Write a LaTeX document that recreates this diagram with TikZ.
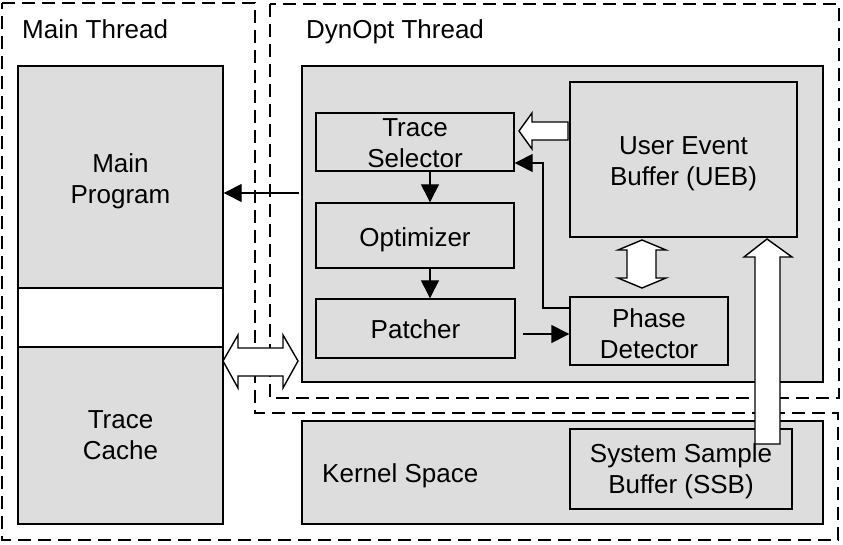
\documentclass[tikz,border=0pt]{standalone}
\usepackage{fontspec}
\setmainfont{Liberation Sans}
\usetikzlibrary{arrows.meta}
\definecolor{boxgray}{RGB}{221,221,221}
\begin{document}
\begin{tikzpicture}[x=1pt,y=-1pt,
  box/.style={draw=black, line width=1.4pt, fill=boxgray, inner sep=0pt},
  wbox/.style={draw=black, line width=1.4pt, fill=white, inner sep=0pt},
  region/.style={draw=black, line width=1.4pt, dash pattern=on 13pt off 7pt},
  txt/.style={font=\fontsize{26}{31}\selectfont, inner sep=0pt, align=center, anchor=north},
  lbl/.style={font=\fontsize{26}{31}\selectfont, inner sep=0pt, anchor=base west},
  conn/.style={line width=1.4pt, -{Triangle[length=18pt,width=18pt]}},
  hollow/.style={draw=black, line width=1.4pt, fill=white, line join=miter}
]
\useasboundingbox (0,0) rectangle (843,545);

% dashed regions
\draw[region] (2,3) -- (255,3) -- (255,413) -- (838,413) -- (838,540) -- (2,540) -- cycle;
\draw[region] (270,4) rectangle (839,398);
\node[lbl] (mtl) at (22,39) {Main Thread};
\node[lbl] (dtl) at (306,39) {DynOpt Thread};

% main thread boxes
\node[box, minimum width=205pt, minimum height=222pt] (mp) at (120.5,177) {};
\node[wbox, minimum width=205pt, minimum height=59pt] (mid) at (120.5,317.5) {};
\node[box, minimum width=205pt, minimum height=177pt] (tc) at (120.5,435.5) {};
\node[txt] (mpt) at (120.5,153.4) {Main\\Program};
\node[txt] (tct) at (120.5,410.4) {Trace\\Cache};

% dynopt boxes
\node[box, minimum width=521pt, minimum height=316pt] (dyn) at (562.5,224) {};
\node[box, minimum width=198pt, minimum height=58pt] (ts) at (415,142) {};
\node[box, minimum width=198pt, minimum height=65pt] (opt) at (415,235.5) {};
\node[box, minimum width=199pt, minimum height=59pt] (pat) at (415.5,328.5) {};
\node[box, minimum width=227pt, minimum height=155pt] (ueb) at (683.5,159.5) {};
\node[box, minimum width=158pt, minimum height=68pt] (pd) at (649,331) {};
\node[txt] (tst) at (415,118.4) {Trace\\Selector};
\node[txt] (optt) at (415,227.4) {Optimizer};
\node[txt] (patt) at (415.5,319.4) {Patcher};
\node[txt] (uebt) at (683.5,136.4) {User Event\\Buffer (UEB)};
\node[txt] (pdt) at (649,308.4) {Phase\\Detector};

% kernel
\node[box, minimum width=521pt, minimum height=103pt] (ker) at (562.5,472.5) {};
\node[lbl] (kert) at (322,482) {Kernel Space};
\node[box, minimum width=222pt, minimum height=80pt] (ssb) at (681,469) {};
\node[txt] (ssbt) at (681,443.4) {System Sample\\Buffer (SSB)};

% connectors
\coordinate (vx) at (430,0);
\coordinate (mpin) at (299,193);
\coordinate (pp) at (523,334);
\coordinate (pdo) at (570,308);
\coordinate (bend) at (543,163);
\draw[conn] (mpin) -- (mpin -| mp.east);
\draw[conn] (ts.south -| vx) -- (opt.north -| vx);
\draw[conn] (opt.south -| vx) -- (pat.north -| vx);
\draw[conn] (pp) -- (pp -| pd.west);
\draw[conn] (pdo) -| (bend) -- (bend -| ts.east);

% hollow block arrows
\filldraw[hollow] (519,131) -- (532,113) -- (532,122) -- (568,122) -- (568,140) -- (532,140) -- (532,149) -- cycle;
\filldraw[hollow] (642,240) -- (666,250) -- (656,250) -- (656,278) -- (666,278) -- (642,288) -- (618,278) -- (627,278) -- (627,250) -- (618,250) -- cycle;
\filldraw[hollow] (223,361) -- (238,335) -- (238,348) -- (283,348) -- (283,335) -- (298,361) -- (283,388) -- (283,376) -- (238,376) -- (238,388) -- cycle;
\filldraw[hollow] (767,239) -- (792,257) -- (780,257) -- (780,444) -- (755,444) -- (755,257) -- (744,257) -- cycle;
\end{tikzpicture}
\end{document}
